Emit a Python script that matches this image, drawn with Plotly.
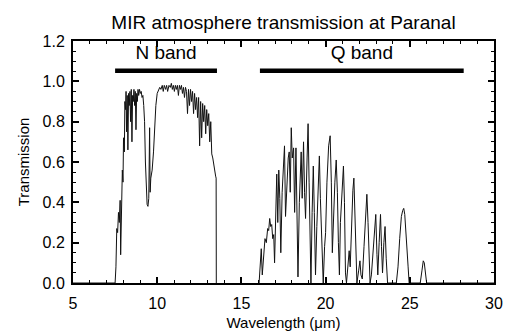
import plotly.graph_objects as go

# ---- data ----
n_wl = [5.0, 7.50, 7.55, 7.60, 7.65, 7.70, 7.75, 7.80, 7.83, 7.88, 7.93, 7.97, 8.00, 8.05, 8.08,
        8.12, 8.15, 8.18, 8.22, 8.26, 8.30, 8.34, 8.38, 8.42, 8.46, 8.50, 8.54, 8.58, 8.62,
        8.66, 8.70, 8.74, 8.78, 8.82, 8.86, 8.90, 8.95, 9.00, 9.05, 9.10, 9.15, 9.20, 9.25,
        9.30, 9.35, 9.40, 9.45, 9.50, 9.55, 9.58, 9.62, 9.70, 9.78, 9.85, 9.92, 10.00, 10.08,
        10.15, 10.22, 10.30, 10.36, 10.42, 10.50, 10.56, 10.62, 10.70, 10.78, 10.84, 10.90,
        10.96, 11.02, 11.08, 11.14, 11.20, 11.26, 11.32, 11.38, 11.44, 11.50, 11.56, 11.62,
        11.68, 11.74, 11.80, 11.86, 11.92, 11.98, 12.04, 12.10, 12.16, 12.22, 12.28, 12.34,
        12.40, 12.46, 12.52, 12.58, 12.64, 12.70, 12.76, 12.82, 12.88, 12.94, 13.00, 13.06,
        13.12, 13.18, 13.24, 13.30, 13.36, 13.42, 13.47, 13.50, 13.51]
n_tr = [0.00, 0.00, 0.08, 0.27, 0.25, 0.35, 0.30, 0.41, 0.14, 0.38, 0.56, 0.50, 0.72, 0.65, 0.90,
        0.86, 0.95, 0.75, 0.93, 0.66, 0.94, 0.88, 0.95, 0.80, 0.96, 0.70, 0.93, 0.90, 0.96,
        0.88, 0.95, 0.76, 0.94, 0.90, 0.96, 0.93, 0.96, 0.94, 0.95, 0.92, 0.93, 0.88, 0.80,
        0.60, 0.45, 0.39, 0.38, 0.42, 0.77, 0.45, 0.52, 0.56, 0.65, 0.78, 0.88, 0.94, 0.96,
        0.97, 0.96, 0.98, 0.95, 0.98, 0.96, 0.98, 0.95, 0.98, 0.97, 0.99, 0.96,
        0.98, 0.95, 0.98, 0.96, 0.98, 0.93, 0.98, 0.96, 0.98, 0.94, 0.97, 0.92,
        0.97, 0.95, 0.84, 0.96, 0.88, 0.96, 0.90, 0.95, 0.84, 0.94, 0.86, 0.92,
        0.82, 0.92, 0.68, 0.90, 0.72, 0.89, 0.80, 0.88, 0.74, 0.86, 0.78, 0.84,
        0.70, 0.80, 0.64, 0.62, 0.58, 0.55, 0.53, 0.52, 0.00]

q_wl = [16.05, 16.12, 16.18, 16.24, 16.32, 16.40, 16.48, 16.56, 16.62, 16.68, 16.74, 16.80, 16.86,
        16.92, 16.97, 17.03, 17.10, 17.16, 17.22, 17.28, 17.34, 17.42, 17.50, 17.56, 17.62,
        17.70, 17.78, 17.84, 17.90, 17.96, 18.02, 18.10, 18.16, 18.24, 18.30, 18.36, 18.44,
        18.50, 18.55, 18.61, 18.69, 18.75, 18.81, 18.90, 18.96, 19.02, 19.08, 19.13, 19.20,
        19.27, 19.33, 19.40, 19.48, 19.56, 19.63, 19.69, 19.74, 19.80, 19.86, 19.94, 20.00,
        20.08, 20.18, 20.27, 20.34, 20.40, 20.46, 20.55, 20.63, 20.70, 20.76, 20.82, 20.88,
        20.95, 21.00, 21.06, 21.12, 21.18, 21.24, 21.32, 21.40, 21.46, 21.54, 21.62, 21.68,
        21.74, 21.80, 21.86, 21.96, 22.04, 22.10, 22.18, 22.28, 22.36, 22.45, 22.52, 22.58,
        22.64, 22.72, 22.80, 22.90, 22.98, 23.05, 23.10, 23.18, 23.26, 23.32, 23.38, 23.46,
        23.53, 23.60, 23.68, 24.20, 24.30, 24.40, 24.50, 24.58, 24.64, 24.70, 24.76, 24.82,
        24.90, 24.96, 25.62, 25.72, 25.80, 25.86, 25.92, 26.00, 30.00]
q_tr = [0.00, 0.08, 0.17, 0.04, 0.14, 0.22, 0.20, 0.27, 0.26, 0.32, 0.28, 0.29, 0.22,
        0.24, 0.10, 0.35, 0.54, 0.30, 0.56, 0.42, 0.15, 0.45, 0.60, 0.68, 0.33,
        0.52, 0.62, 0.65, 0.45, 0.77, 0.62, 0.67, 0.35, 0.67, 0.40, 0.03, 0.40,
        0.58, 0.65, 0.42, 0.70, 0.45, 0.32, 0.62, 0.79, 0.50, 0.10, 0.00, 0.35,
        0.58, 0.35, 0.04, 0.28, 0.50, 0.63, 0.42, 0.26, 0.08, 0.00, 0.18, 0.25,
        0.50, 0.68, 0.73, 0.50, 0.15, 0.30, 0.50, 0.61, 0.45, 0.20, 0.04, 0.30,
        0.42, 0.52, 0.58, 0.40, 0.05, 0.00, 0.10, 0.16, 0.08, 0.30, 0.46, 0.52,
        0.36, 0.10, 0.00, 0.06, 0.11, 0.04, 0.02, 0.18, 0.34, 0.44, 0.30, 0.08,
        0.00, 0.04, 0.14, 0.26, 0.34, 0.14, 0.04, 0.20, 0.34, 0.18, 0.05, 0.20,
        0.28, 0.12, 0.00, 0.00, 0.08, 0.22, 0.33, 0.36, 0.37, 0.34, 0.24, 0.20,
        0.08, 0.00, 0.00, 0.06, 0.11, 0.10, 0.05, 0.00, 0.00]

band_names = ["N band", "Q band"]
band_start = [7.5, 16.1]
band_end = [13.55, 28.2]
band_level = 1.053
label_level = 1.135

x_ticks = [5, 10, 15, 20, 25, 30]
y_ticks = [0.0, 0.2, 0.4, 0.6, 0.8, 1.0, 1.2]

FONT = "Liberation Sans, Arial, Helvetica, sans-serif"

fig = go.Figure()
fig.add_trace(go.Scatter(x=n_wl, y=n_tr, mode="lines",
                         line=dict(color="#111111", width=1), hoverinfo="skip"))
fig.add_trace(go.Scatter(x=q_wl, y=q_tr, mode="lines",
                         line=dict(color="#111111", width=1), hoverinfo="skip"))
for name, s, e in zip(band_names, band_start, band_end):
    fig.add_trace(go.Scatter(x=[s, e], y=[band_level, band_level], mode="lines",
                             line=dict(color="black", width=4.5)))
    fig.add_trace(go.Scatter(x=[(s + e) / 2], y=[label_level], mode="text", text=[name],
                             textfont=dict(family=FONT, size=19, color="black")))

axis_common = dict(showgrid=False, zeroline=False, showline=True, linecolor="black",
                   linewidth=2, mirror="ticks", ticks="inside", ticklen=6, tickwidth=1.5,
                   tickcolor="black", automargin=False,
                   tickfont=dict(family=FONT, size=16, color="black"))

fig.update_layout(
    template="none",
    width=522, height=334, showlegend=False,
    plot_bgcolor="white", paper_bgcolor="white",
    margin=dict(l=73, r=28, t=41, b=51),
    title=dict(text="MIR atmosphere transmission at Paranal", x=0.5, xref="paper",
               xanchor="center", y=1 - 22 / 334, yanchor="middle",
               font=dict(family=FONT, size=19, color="black")),
    xaxis=dict(range=[5, 30], tickvals=x_ticks, ticktext=[str(v) for v in x_ticks],
               ticklabelstandoff=5,
               minor=dict(dtick=1, ticks="inside", ticklen=3, tickcolor="black", tickwidth=1.2),
               title=dict(text="Wavelength (\u03bcm)", font=dict(family=FONT, size=15, color="black"),
                          standoff=6),
               **axis_common),
    yaxis=dict(range=[0, 1.2], tickvals=y_ticks, ticktext=[f"{v:.1f}" for v in y_ticks],
               ticklabelstandoff=3,
               minor=dict(dtick=0.05, ticks="inside", ticklen=3, tickcolor="black", tickwidth=1.2),
               title=dict(text="Transmission", font=dict(family=FONT, size=15, color="black"),
                          standoff=9),
               **axis_common),
)

fig.write_html("out.html", config={"displayModeBar": False},
               post_script="document.body.style.margin='0';document.body.style.overflow='hidden';")
